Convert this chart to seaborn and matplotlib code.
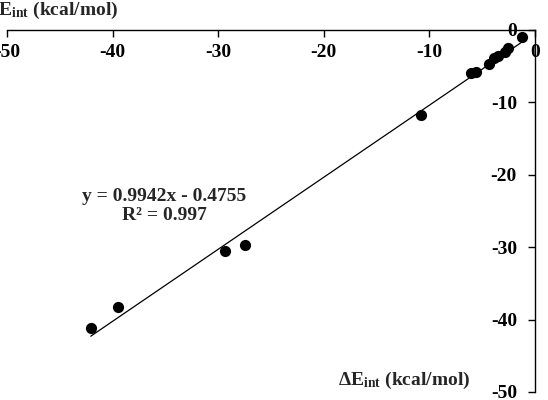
import numpy as np
import pandas as pd
import seaborn as sns
import matplotlib.pyplot as plt

# values
calc_x = [-42.07, -39.45, -29.4, -27.5, -10.76, -6.02, -5.55, -4.31, -3.84,
          -3.46, -2.80, -2.51, -1.19]
calc_y = [-41.2, -38.3, -30.5, -29.7, -11.77, -5.97, -5.83, -4.73, -3.90,
          -3.63, -3.08, -2.52, -1.0]
slope = 0.9942
intercept = -0.4755
r_squared = 0.997
ticks = [-50, -40, -30, -20, -10, 0]

df = pd.DataFrame({"x": calc_x, "y": calc_y})

sns.set_style("white")
plt.rcParams["font.family"] = ["Liberation Serif", "DejaVu Serif"]
plt.rcParams["font.weight"] = "bold"
plt.rcParams["axes.unicode_minus"] = False
plt.rcParams["mathtext.fontset"] = "custom"
plt.rcParams["mathtext.rm"] = "Liberation Serif:bold"
plt.rcParams["mathtext.bf"] = "Liberation Serif:bold"
plt.rcParams["mathtext.it"] = "Liberation Serif:bold"

fig = plt.figure(figsize=(5.48, 4.0), dpi=100)
ax = fig.add_axes([7 / 548, 1 - 392 / 400, (535 - 7) / 548, (392 - 29.7) / 400])

sns.scatterplot(data=df, x="x", y="y", color="black", s=65,
                edgecolor="black", linewidth=0, ax=ax, zorder=3)

# trendline across the data range
xs = np.array([df["x"].min(), df["x"].max()])
sns.lineplot(x=xs, y=slope * xs + intercept, color="black", linewidth=0.9,
             ax=ax, zorder=2)

ax.set_xlim(-50, 0)
ax.set_ylim(-50, 0)
ax.set_xticks(ticks)
ax.set_yticks(ticks)
ax.set_xlabel("")
ax.set_ylabel("")

# axes cross at the origin (top-right corner)
ax.spines["bottom"].set_position(("data", 0))
ax.spines["left"].set_position(("data", 0))
ax.spines["top"].set_visible(False)
ax.spines["right"].set_visible(False)
for s in ("bottom", "left"):
    ax.spines[s].set_color("black")
    ax.spines[s].set_linewidth(1.0)
ax.tick_params(axis="both", direction="out", length=5, width=1.0,
               colors="black", labelsize=14)
ax.tick_params(axis="x", pad=5)
ax.tick_params(axis="y", pad=8)
ax.xaxis.set_ticks_position("bottom")
ax.yaxis.set_ticks_position("left")
for lbl in ax.get_xticklabels() + ax.get_yticklabels():
    lbl.set_fontweight("bold")

fig.text(164 / 548, 1 - 197 / 400, f"y = {slope}x - {intercept * -1:.4f}",
         ha="center", va="center", fontsize=14, fontweight="bold")
fig.text(164 / 548, 1 - 216 / 400, f"R² = {r_squared}",
         ha="center", va="center", fontsize=14, fontweight="bold")

fig.text(-14 / 548, 1 - 10 / 400, r"$\Delta\mathrm{E}_{\mathrm{int}}$ (kcal/mol)",
         ha="left", va="center", fontsize=14, fontweight="bold")
fig.text(404 / 548, 1 - 380 / 400, r"$\Delta\mathrm{E}_{\mathrm{int}}$ (kcal/mol)",
         ha="center", va="center", fontsize=14, fontweight="bold")

fig.savefig("out.png", dpi=100)
